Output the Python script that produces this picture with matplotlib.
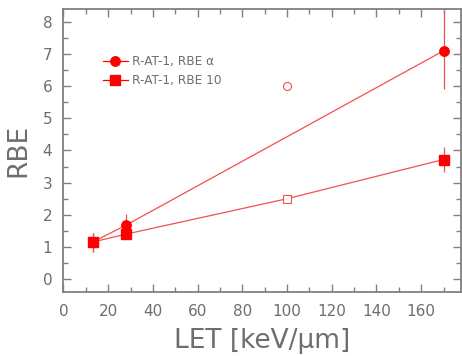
import matplotlib
matplotlib.use("Agg")
import matplotlib.pyplot as plt
from matplotlib.ticker import MultipleLocator

# RBE alpha (filled circles)
let_alpha = [13, 28, 170]
rbe_alpha = [1.15, 1.68, 7.1]
err_alpha = [0.3, 0.35, 1.2]

# RBE 10 (filled squares)
let_r10 = [13, 28, 170]
rbe_r10 = [1.15, 1.4, 3.72]
err_r10 = [0.3, 0.15, 0.4]

# open symbols at 100 keV/um
let_open = [100]
rbe_open_alpha = [6.0]
rbe_open_r10 = [2.5]

# line through squares includes the open one
line_r10_x = [13, 28, 100, 170]
line_r10_y = [1.15, 1.4, 2.5, 3.72]

red = "#ff0000"
lred = "#f05050"
gray = "#808080"
tgray = "#6e6e6e"

fig = plt.figure(figsize=(4.62, 3.56), dpi=100)
ax = fig.add_axes([0.1374, 0.1798, 0.8604, 0.7949])

ax.plot(let_alpha, rbe_alpha, color=lred, lw=0.9, zorder=2)
ax.plot(line_r10_x, line_r10_y, color=lred, lw=0.9, zorder=2)

ax.errorbar(let_alpha, rbe_alpha, yerr=err_alpha, fmt="none", ecolor=lred,
            elinewidth=0.9, capsize=0, zorder=2)
ax.errorbar(let_r10, rbe_r10, yerr=err_r10, fmt="none", ecolor=lred,
            elinewidth=0.9, capsize=0, zorder=2)

ax.plot(let_alpha, rbe_alpha, "o", color=red, ms=6.8, ls="none", zorder=3)
ax.plot(let_r10, rbe_r10, "s", color=red, ms=6.5, ls="none", zorder=4)
ax.plot(let_open, rbe_open_alpha, "o", mfc="white", mec=lred, ms=5.8, mew=0.8,
        ls="none", zorder=3)
ax.plot(let_open, rbe_open_r10, "s", mfc="white", mec=lred, ms=5.8, mew=0.8,
        ls="none", zorder=3)

ax.set_xlim(0, 177.8)
ax.set_ylim(-0.4, 8.4)

ax.xaxis.set_major_locator(MultipleLocator(20))
ax.xaxis.set_minor_locator(MultipleLocator(10))
ax.yaxis.set_major_locator(MultipleLocator(1))
ax.yaxis.set_minor_locator(MultipleLocator(0.5))

ax.tick_params(which="both", direction="in", top=True, right=True,
               color=gray, labelcolor=tgray, labelsize=11)
ax.tick_params(which="major", length=6, width=1)
ax.tick_params(which="minor", length=3.5, width=1)
ax.tick_params(axis="y", pad=8)
ax.tick_params(axis="x", pad=9)

for sp in ax.spines.values():
    sp.set_color(gray)
    sp.set_linewidth(1.3)

ax.set_xlabel("LET [keV/\u03bcm]", fontsize=19, color=tgray, labelpad=6)
ax.set_ylabel("RBE", fontsize=19, color=tgray, labelpad=8)

h1 = plt.Line2D([], [], color=red, marker="o", ms=6.8, lw=0.9)
h2 = plt.Line2D([], [], color=red, marker="s", ms=6.5, lw=0.9)
ax.legend([h1, h2], ["R-AT-1, RBE \u03b1", "R-AT-1, RBE 10"],
          loc="upper left", bbox_to_anchor=(0.073, 0.875), frameon=False,
          fontsize=8.7, handlelength=2.0, handletextpad=0.35, labelspacing=0.5,
          labelcolor=tgray)

fig.savefig("out.png", dpi=100)
